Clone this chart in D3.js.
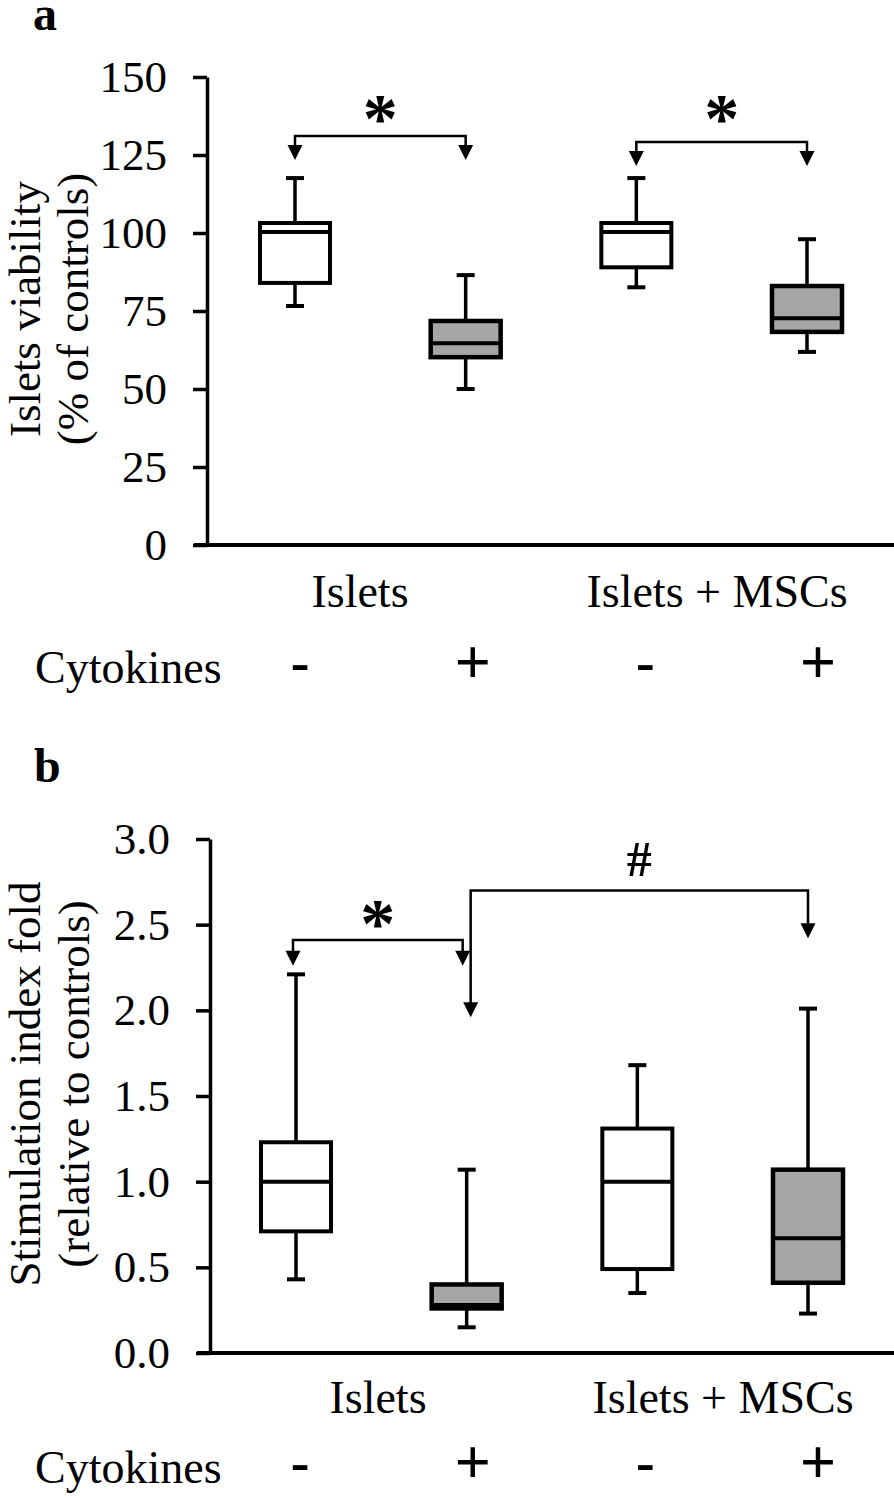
<!DOCTYPE html>
<html>
<head>
<meta charset="utf-8">
<script src="https://cdn.jsdelivr.net/npm/d3@7"></script>
<style>
  body { margin: 0; background: #fff; }
  text { font-family: "Liberation Serif", "Times New Roman", serif; fill: #000; }
</style>
</head>
<body>
<div id="container"></div>
<script>
/* DATA */
const treatments = ["Islets", "Islets + MSCs"];
const cytokines = ["-", "+", "-", "+"];

// box stats per group: [min, q1, median, q3, max]
const viabilityStats = [
  [76.6, 84.0, 100.3, 103.2, 117.6],
  [50.0, 60.2, 64.7, 71.8, 86.5],
  [82.6, 89.0, 100.3, 103.2, 117.6],
  [61.9, 68.3, 72.7, 83.0, 98.0]
];
const viabilityTicks = [0, 25, 50, 75, 100, 125, 150];

const stimulationStats = [
  [0.43, 0.71, 1.00, 1.23, 2.21],
  [0.15, 0.26, 0.28, 0.40, 1.07],
  [0.35, 0.49, 1.00, 1.31, 1.68],
  [0.23, 0.41, 0.67, 1.07, 2.01]
];
const stimulationTicks = [0, 0.5, 1.0, 1.5, 2.0, 2.5, 3.0];

// significance brackets: groups compared, symbol, bar level and arrow tips (data units)
const viabilityBrackets = [
  { from: 0, to: 1, label: "*", level: 131.1, tips: [123.4, 123.4] },
  { from: 2, to: 3, label: "*", level: 129.2, tips: [121.5, 121.5] }
];
const stimulationBrackets = [
  { from: 0, to: 1, label: "*", level: 2.41, tips: [2.26, 2.26] },
  { from: 1, to: 3, label: "#", level: 2.70, tips: [1.96, 2.42] }
];

/* LAYOUT */
const width = 894, height = 1498;
const gray = "#a6a6a6";

const panels = [
  {
    letter: "a", letterPos: [33, 30],
    stats: viabilityStats, ticks: viabilityTicks, brackets: viabilityBrackets,
    domain: [0, 150], fmt: d3.format("d"),
    top: 77, bottom: 545, axisX: 207, xStart: 194, boxRange: [295, 807],
    title: ["Islets viability", "(% of controls)"], titleX: [40, 88], titleY: 309,
    catX: [360, 717], catY: 607, cytoY: 683,
    legShift: [[0, 0], [0, 0]], symbolY: 142
  },
  {
    letter: "b", letterPos: [34, 782],
    stats: stimulationStats, ticks: stimulationTicks, brackets: stimulationBrackets,
    domain: [0, 3], fmt: d3.format(".1f"),
    top: 839, bottom: 1353, axisX: 210, xStart: 197, boxRange: [296, 808],
    title: ["Stimulation index fold", "(relative to controls)"], titleX: [40, 89], titleY: 1084,
    catX: [378, 723], catY: 1413, cytoY: 1483,
    legShift: [[-3, -4], [4, 0]], symbolY: null
  }
];

const svg = d3.select("#container")
  .append("svg")
  .attr("width", width)
  .attr("height", height);

panels.forEach(p => {
  const g = svg.append("g");

  /* SCALES */
  const yScale = d3.scaleLinear().domain(p.domain).range([p.bottom, p.top]);
  const xScale = d3.scalePoint().domain(d3.range(p.stats.length)).range(p.boxRange);
  const signScale = d3.scalePoint().domain(d3.range(cytokines.length)).range([300, 818]);
  const boxW = 70, capW = 18;

  // panel letter
  g.append("text")
    .attr("x", p.letterPos[0]).attr("y", p.letterPos[1])
    .attr("font-size", 48).attr("font-weight", "bold")
    .text(p.letter);

  // y axis
  const yAxis = d3.axisLeft(yScale)
    .tickValues(p.ticks)
    .tickFormat(p.fmt)
    .tickSizeInner(14)
    .tickSizeOuter(0)
    .tickPadding(26);
  const ax = g.append("g")
    .attr("transform", `translate(${p.axisX},0)`)
    .call(yAxis);
  ax.select(".domain").attr("stroke", "#000").attr("stroke-width", 3.5);
  ax.selectAll(".tick line").attr("stroke", "#000").attr("stroke-width", 3.5);
  ax.selectAll(".tick text")
    .attr("font-size", 45)
    .attr("font-family", "Liberation Serif, Times New Roman, serif")
    .attr("fill", "#000");

  // x axis baseline
  g.append("line")
    .attr("x1", p.xStart).attr("x2", width)
    .attr("y1", yScale(0)).attr("y2", yScale(0))
    .attr("stroke", "#000").attr("stroke-width", 4);

  // y title
  p.title.forEach((t, i) => {
    g.append("text")
      .attr("transform", `translate(${p.titleX[i]},${p.titleY}) rotate(-90)`)
      .attr("text-anchor", "middle")
      .attr("font-size", 45)
      .text(t);
  });

  // boxes
  const box = g.selectAll("g.box")
    .data(p.stats)
    .join("g")
    .attr("class", "box");

  box.append("line")
    .attr("x1", (d, i) => xScale(i)).attr("x2", (d, i) => xScale(i))
    .attr("y1", d => yScale(d[4])).attr("y2", d => yScale(d[3]))
    .attr("stroke", "#000").attr("stroke-width", 3.5);
  box.append("line")
    .attr("x1", (d, i) => xScale(i)).attr("x2", (d, i) => xScale(i))
    .attr("y1", d => yScale(d[1])).attr("y2", d => yScale(d[0]))
    .attr("stroke", "#000").attr("stroke-width", 3.5);
  [0, 4].forEach(k => {
    box.append("line")
      .attr("x1", (d, i) => xScale(i) - capW / 2).attr("x2", (d, i) => xScale(i) + capW / 2)
      .attr("y1", d => yScale(d[k])).attr("y2", d => yScale(d[k]))
      .attr("stroke", "#000").attr("stroke-width", 4);
  });
  box.append("rect")
    .attr("x", (d, i) => xScale(i) - boxW / 2)
    .attr("width", boxW)
    .attr("y", d => yScale(d[3]))
    .attr("height", d => yScale(d[1]) - yScale(d[3]))
    .attr("fill", (d, i) => cytokines[i] === "+" ? gray : "#fff")
    .attr("stroke", "#000")
    .attr("stroke-width", (d, i) => cytokines[i] === "+" ? 4.5 : 4);
  box.append("line")
    .attr("x1", (d, i) => xScale(i) - boxW / 2).attr("x2", (d, i) => xScale(i) + boxW / 2)
    .attr("y1", d => yScale(d[2])).attr("y2", d => yScale(d[2]))
    .attr("stroke", "#000").attr("stroke-width", 4);

  // significance brackets
  const arrowH = 15, arrowW = 15;
  p.brackets.forEach((b, bi) => {
    const xa = xScale(b.from) + p.legShift[bi][0];
    const xb = xScale(b.to) + p.legShift[bi][1];
    const yl = yScale(b.level);
    const ta = yScale(b.tips[0]), tb = yScale(b.tips[1]);
    g.append("path")
      .attr("d", `M${xa},${ta - arrowH + 1}V${yl}H${xb}V${tb - arrowH + 1}`)
      .attr("fill", "none").attr("stroke", "#000").attr("stroke-width", 2.5);
    [[xa, ta], [xb, tb]].forEach(([x, y]) => {
      g.append("path")
        .attr("d", `M${x - arrowW / 2},${y - arrowH}L${x + arrowW / 2},${y - arrowH}L${x},${y}Z`)
        .attr("fill", "#000");
    });
    const isStar = b.label === "*";
    const ty = p.symbolY != null ? p.symbolY : yl + (isStar ? 7 : -14);
    g.append("text")
      .attr("x", (xa + xb) / 2)
      .attr("y", ty)
      .attr("text-anchor", "middle")
      .attr("font-size", isStar ? 70 : 50)
      .attr("font-weight", "bold")
      .text(b.label);
  });

  // category labels
  treatments.forEach((t, i) => {
    g.append("text")
      .attr("x", p.catX[i]).attr("y", p.catY)
      .attr("text-anchor", "middle")
      .attr("font-size", 46)
      .text(t);
  });

  // cytokines row
  g.append("text")
    .attr("x", 35).attr("y", p.cytoY)
    .attr("font-size", 46)
    .text("Cytokines");
  g.selectAll("text.sign")
    .data(cytokines)
    .join("text")
    .attr("class", "sign")
    .attr("x", (d, i) => signScale(i))
    .attr("y", (d) => d === "+" ? p.cytoY : p.cytoY - 2)
    .attr("text-anchor", "middle")
    .attr("font-size", d => d === "+" ? 64 : 56)
    .attr("font-weight", "bold")
    .text(d => d);
});
</script>
</body>
</html>
